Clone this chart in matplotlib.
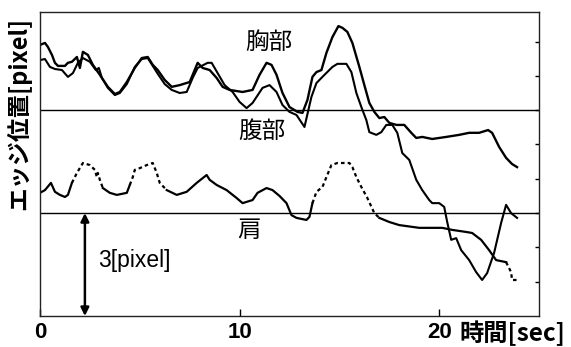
import numpy as np
import matplotlib
matplotlib.use("Agg")
import matplotlib.pyplot as plt

plt.rcParams['font.family'] = ['Noto Sans CJK JP', 'DejaVu Sans']

# time [sec], edge position [pixel]
chest_upper_t = [0, 0.25, 0.4, 0.6, 0.75, 0.9, 1.25, 1.4, 1.6, 1.85, 2.0, 2.15, 2.4, 2.65, 3.0,
                 3.4, 3.75, 4.0, 4.35, 4.75, 5.1, 5.4, 5.65, 5.9, 6.25, 6.6, 7.0, 7.5, 7.9, 8.15,
                 8.5, 8.85, 9.15, 9.5, 10.15, 10.65, 11.0, 11.35, 11.6, 11.85, 12.15, 12.5, 12.9,
                 13.15, 13.4, 13.65, 13.85, 14.1, 14.35, 14.65, 14.95, 15.15, 15.4, 15.65, 16.0,
                 16.25, 16.5, 16.75, 17.0, 17.25, 17.5, 17.85, 18.25, 18.6, 18.85, 19.15, 19.65,
                 20.35, 21.0, 21.5, 22.0, 22.45, 22.65, 23.0, 23.35, 23.65, 23.9]
chest_upper_y = [7.90, 7.96, 7.84, 7.61, 7.38, 7.29, 7.29, 7.38, 7.41, 7.55, 7.23, 7.70, 7.61, 7.32, 7.03,
                 6.68, 6.47, 6.53, 6.82, 7.23, 7.52, 7.55, 7.32, 7.17, 6.88, 6.68, 6.73, 6.82, 7.38, 7.23,
                 7.17, 6.94, 6.68, 6.59, 6.53, 6.59, 7.03, 7.38, 7.32, 7.03, 6.50, 6.09, 5.95,
                 5.92, 6.30, 6.97, 7.11, 7.17, 7.67, 8.13, 8.45, 8.40, 8.28, 7.96, 7.26,
                 6.73, 6.21, 5.95, 5.77, 5.80, 5.63, 5.57, 5.57, 5.34, 5.19, 5.22, 5.16,
                 5.22, 5.28, 5.34, 5.34, 5.42, 5.34, 4.93, 4.61, 4.43, 4.34]

chest_lower_t = [0, 0.25, 0.5, 0.75, 1.1, 1.4, 1.65, 1.9, 2.15, 2.5, 2.8, 2.95, 3.1, 3.4, 3.75, 4.0,
                 4.35, 4.75, 5.1, 5.4, 5.65, 5.9, 6.25, 6.6, 7.0, 7.35, 7.65, 7.9, 8.4, 8.6, 8.9,
                 9.25, 9.65, 10.0, 10.35, 10.65, 11.15, 11.5, 11.85, 12.15, 12.5, 12.85, 13.25,
                 13.6, 13.85, 14.15, 14.65, 14.9, 15.35, 15.6, 15.85, 16.1, 16.35, 16.5, 16.85,
                 17.1, 17.35, 17.65, 17.9, 18.15, 18.5, 18.85, 19.15, 19.5, 19.65, 20.0, 20.25,
                 20.4, 20.6, 20.85, 21.1, 21.5, 21.85, 22.15, 22.4, 22.75, 23.1, 23.35, 23.6, 23.9]
chest_lower_y = [7.46, 7.49, 7.26, 7.20, 7.17, 6.97, 7.08, 7.38, 7.52, 7.41, 7.17, 7.23, 6.94, 6.65, 6.44, 6.50,
                 6.76, 7.26, 7.49, 7.52, 7.29, 7.06, 6.76, 6.59, 6.50, 6.53, 6.94, 7.23, 7.38, 7.38, 7.08,
                 6.73, 6.53, 6.24, 6.06, 6.21, 6.65, 6.73, 6.53, 6.15, 5.95, 5.86, 5.51,
                 6.39, 6.79, 6.97, 7.26, 7.35, 7.35, 7.11, 6.50, 6.09, 5.71, 5.36, 5.28,
                 5.36, 5.57, 5.57, 5.34, 4.75, 4.55, 3.97, 3.67, 3.38, 3.29, 3.29, 3.18,
                 2.74, 2.22, 2.27, 1.92, 1.63, 1.28, 1.05, 1.25, 1.84, 2.71, 3.24, 3.00, 2.86]

abdomen_t = [0, 0.25, 0.55, 0.75, 1.0, 1.25, 1.4, 1.6, 1.85, 2.15, 2.5, 2.75, 2.85, 2.9, 3.0, 3.15,
             3.5, 3.85, 4.35, 4.5, 4.65, 4.75, 5.0, 5.35, 5.65, 5.85, 6.0, 6.35, 6.85, 7.35, 7.85,
             8.35, 8.5, 8.85, 9.35, 9.85, 10.15, 10.65, 10.9, 11.35, 11.65, 12.0, 12.35, 12.6,
             12.85, 13.35, 13.5, 13.65, 13.85, 14.15, 14.35, 14.6, 14.9, 15.5, 15.65, 15.85,
             16.1, 16.4, 16.75, 17.0, 17.5, 18.0, 19.0, 20.15, 20.65, 21.35, 21.65, 22.1, 22.5,
             22.85, 23.35, 23.6, 23.65, 23.9]
abdomen_y = [3.59, 3.67, 3.88, 3.62, 3.53, 3.47, 3.53, 3.88, 4.17, 4.46, 4.40, 4.26, 4.05, 4.17, 3.97, 3.73,
             3.59, 3.53, 3.59, 3.82, 4.05, 4.26, 4.31, 4.40, 4.46, 4.17, 3.88, 3.67, 3.53, 3.62, 3.88,
             4.11, 3.97, 3.82, 3.67, 3.44, 3.29, 3.38, 3.59, 3.73, 3.67, 3.50, 3.29, 2.94,
             2.86, 2.80, 2.89, 3.29, 3.62, 3.76, 4.05, 4.40, 4.46, 4.46, 4.34, 4.05,
             3.76, 3.44, 3.00, 2.86, 2.74, 2.65, 2.57, 2.57, 2.51, 2.45, 2.42, 2.22, 1.92,
             1.63, 1.57, 1.28, 1.05, 1.05]
# stretches of the abdomen trace drawn dashed
abdomen_gaps = [(1.5, 3.0), (4.5, 6.0), (13.6, 16.75), (23.3, 23.9)]

ref_levels = [3, 6]
scale_len = 3
xticks = [0, 10, 20]


def plot_gapped(ax, t, y, gaps, **kw):
    """Solid line, switching to a dashed style inside the gap ranges."""
    t = np.asarray(t)
    y = np.asarray(y)
    dashed = np.zeros(len(t), bool)
    for a, b in gaps:
        dashed |= (t >= a) & (t <= b)
    start = 0
    for i in range(1, len(t) + 1):
        if i == len(t) or dashed[i] != dashed[start]:
            stop = min(i + 1, len(t))
            ls = (0, (1.6, 1.4)) if dashed[start] else '-'
            ax.plot(t[start:stop], y[start:stop], ls=ls, **kw)
            start = i


fig = plt.figure(figsize=(5.71, 3.47), dpi=100)
ax = fig.add_axes([0.070, 0.0893, 0.874, 0.876])

ax.plot(chest_upper_t, chest_upper_y, color='black', lw=1.7)
ax.plot(chest_lower_t, chest_lower_y, color='black', lw=1.5)
plot_gapped(ax, abdomen_t, abdomen_y, abdomen_gaps, color='black', lw=1.6)

for lv in ref_levels:
    ax.axhline(lv, color='black', lw=1.0)

ax.annotate('', xy=(2.25, 0), xytext=(2.25, scale_len),
            arrowprops=dict(arrowstyle='<|-|>', color='black', lw=1.8,
                            mutation_scale=12, shrinkA=0, shrinkB=0))
ax.text(2.9, 1.63, f'{scale_len}[pixel]', fontsize=16.5, va='center', ha='left',
        family=['Liberation Sans', 'DejaVu Sans'])

ax.text(11.45, 7.96, '胸部', fontsize=17, ha='center', va='center')
ax.text(11.1, 5.39, '腹部', fontsize=17, ha='center', va='center')
ax.text(10.45, 2.48, '肩', fontsize=17, ha='center', va='center')

ax.set_xlim(0, 25)
ax.set_ylim(0, 8.86)
ax.set_xticks(xticks)
ax.set_xticklabels([str(v) for v in xticks], fontsize=16, fontweight='bold',
                   family=['Liberation Sans', 'DejaVu Sans'])
ax.tick_params(axis='x', direction='in', length=5, width=1, pad=4)
ax.yaxis.tick_right()
ax.set_yticks(range(1, 9))
ax.set_yticklabels([])
ax.tick_params(axis='y', direction='in', length=3, width=1)

ax.text(21.0, -0.50, '時間[sec]', fontsize=17.5, fontweight='bold', ha='left', va='center')
fig.text(0.033, 0.672, 'エッジ位置[pixel]', rotation=90, fontsize=17, fontweight='bold',
         ha='center', va='center')

for sp in ax.spines.values():
    sp.set_linewidth(1.0)
    sp.set_color('#222222')

fig.savefig('out.png', dpi=100)
